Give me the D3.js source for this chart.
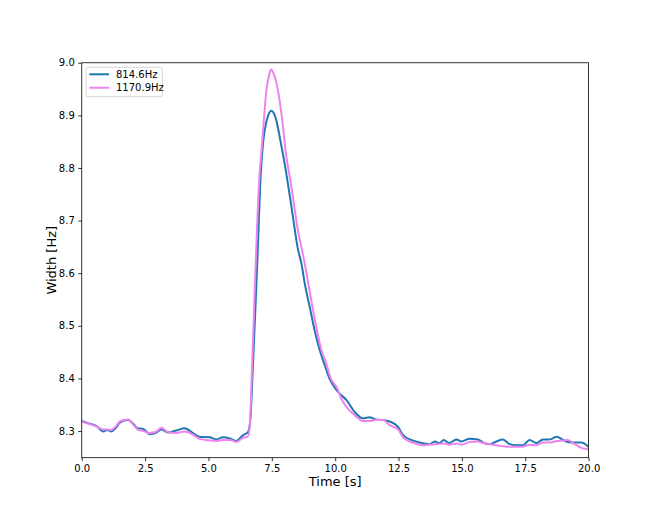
<!DOCTYPE html>
<html>
<head>
<meta charset="utf-8">
<script src="https://cdn.jsdelivr.net/npm/d3@7"></script>
<style>
  html, body { margin: 0; padding: 0; background: #fff; }
  svg { display: block; font-family: "DejaVu Sans", sans-serif; }
</style>
</head>
<body>
<svg id="chart" width="654" height="523"></svg>
<script>
// ---- data ----
const seriesNames = ["814.6Hz", "1170.9Hz"];
const seriesColors = ["#1f77b4", "#ee82ee"];

const blueT = [0.0,0.3,0.55,0.85,1.0,1.17,1.35,1.5,1.83,2.03,2.2,2.42,2.68,2.95,3.14,3.4,3.73,4.06,4.39,4.65,5.05,5.31,5.57,5.84,6.1,6.36,6.56,6.65,6.75,6.85,6.95,7.06,7.16,7.28,7.38,7.48,7.58,7.68,7.8,7.94,8.07,8.2,8.3,8.4,8.52,8.67,8.8,9.0,9.19,9.4,9.59,9.8,10.05,10.18,10.44,10.77,11.1,11.36,11.6,11.89,12.15,12.48,12.68,13.0,13.33,13.73,13.93,14.12,14.28,14.5,14.78,14.98,15.3,15.63,15.83,16.1,16.36,16.62,16.88,17.15,17.41,17.67,17.94,18.2,18.46,18.75,18.99,19.18,19.45,19.71,20.0];
const blueV = [8.319,8.314,8.310,8.299,8.302,8.299,8.306,8.316,8.321,8.314,8.305,8.304,8.294,8.297,8.303,8.297,8.301,8.305,8.296,8.289,8.288,8.284,8.288,8.286,8.281,8.292,8.298,8.320,8.420,8.530,8.650,8.786,8.850,8.887,8.903,8.909,8.904,8.890,8.862,8.826,8.790,8.750,8.718,8.685,8.648,8.618,8.580,8.535,8.491,8.452,8.425,8.397,8.378,8.371,8.359,8.336,8.324,8.326,8.322,8.321,8.318,8.308,8.292,8.283,8.278,8.275,8.280,8.277,8.283,8.277,8.284,8.280,8.285,8.284,8.278,8.275,8.280,8.284,8.275,8.273,8.273,8.283,8.277,8.284,8.284,8.289,8.283,8.279,8.278,8.278,8.270];

const pinkT = [0.0,0.3,0.55,0.85,1.0,1.17,1.35,1.5,1.83,2.03,2.2,2.42,2.68,2.95,3.14,3.4,3.73,4.06,4.39,4.65,5.05,5.31,5.57,5.84,6.1,6.36,6.56,6.63,6.72,6.82,6.92,7.02,7.09,7.18,7.28,7.4,7.48,7.55,7.62,7.75,7.92,8.05,8.27,8.5,8.8,9.05,9.28,9.45,9.65,9.8,10.11,10.18,10.44,10.77,11.1,11.36,11.6,11.89,12.15,12.48,12.68,13.0,13.33,13.5,13.93,14.3,14.5,14.8,15.0,15.3,15.63,15.83,16.1,16.36,16.62,16.88,17.15,17.41,17.67,17.94,18.2,18.46,18.75,18.99,19.18,19.45,19.71,20.0];
const pinkV = [8.318,8.313,8.309,8.303,8.303,8.302,8.309,8.318,8.322,8.312,8.303,8.300,8.296,8.299,8.306,8.298,8.296,8.299,8.293,8.285,8.282,8.281,8.283,8.283,8.279,8.287,8.290,8.310,8.420,8.560,8.690,8.790,8.830,8.887,8.945,8.978,8.987,8.982,8.973,8.945,8.887,8.830,8.765,8.690,8.618,8.550,8.491,8.455,8.428,8.403,8.378,8.368,8.346,8.330,8.319,8.319,8.321,8.321,8.311,8.303,8.288,8.279,8.274,8.273,8.275,8.276,8.274,8.276,8.274,8.279,8.280,8.277,8.275,8.273,8.271,8.270,8.270,8.270,8.274,8.273,8.278,8.278,8.281,8.282,8.283,8.275,8.268,8.265];

const xTicks = [0, 2.5, 5, 7.5, 10, 12.5, 15, 17.5, 20];
const yTicks = [8.3, 8.4, 8.5, 8.6, 8.7, 8.8, 8.9, 9.0];

// ---- layout ----
const padL = 81.75, padR = 588.6, padT = 62.76, padB = 457.7;
const svg = d3.select("#chart");

const x = d3.scaleLinear().domain([0, 20]).range([padL, padR]);
const y = d3.scaleLinear().domain([8.2492, 9.0]).range([padB, padT]);

const series = [
  { name: seriesNames[0], color: seriesColors[0], pts: blueT.map((t, i) => [t, blueV[i]]) },
  { name: seriesNames[1], color: seriesColors[1], pts: pinkT.map((t, i) => [t, pinkV[i]]) }
];

svg.append("defs").append("clipPath").attr("id", "clip")
  .append("rect").attr("x", padL).attr("y", padT).attr("width", padR - padL).attr("height", padB - padT);

const line = d3.line().x(d => x(d[0])).y(d => y(d[1])).curve(d3.curveMonotoneX);

const g = svg.append("g").attr("clip-path", "url(#clip)");
series.forEach(s => {
  g.append("path").datum(s.pts)
    .attr("fill", "none")
    .attr("stroke", s.color)
    .attr("stroke-width", 2)
    .attr("stroke-linejoin", "round")
    .attr("d", line);
});

// axes
const xAxis = d3.axisBottom(x).tickValues(xTicks).tickFormat(d3.format(".1f")).tickSizeOuter(0).tickSize(3.5).tickPadding(3.5);
const yAxis = d3.axisLeft(y).tickValues(yTicks).tickFormat(d3.format(".1f")).tickSizeOuter(0).tickSize(3.5).tickPadding(3.5);

const gx = svg.append("g").attr("transform", `translate(0,${padB})`).call(xAxis);
const gy = svg.append("g").attr("transform", `translate(${padL},0)`).call(yAxis);
[gx, gy].forEach(a => {
  a.select(".domain").remove();
  a.selectAll(".tick line").attr("stroke", "#000").attr("stroke-width", 0.8);
  a.selectAll(".tick text").attr("fill", "#000").attr("font-size", 10).attr("font-family", "DejaVu Sans, sans-serif");
});

// frame
svg.append("rect").attr("x", padL).attr("y", padT).attr("width", padR - padL).attr("height", padB - padT)
  .attr("fill", "none").attr("stroke", "#000").attr("stroke-width", 0.8);

// axis labels
svg.append("text").attr("x", (padL + padR) / 2).attr("y", 486)
  .attr("text-anchor", "middle").attr("font-size", 13).attr("fill", "#000").text("Time [s]");
svg.append("text").attr("transform", `translate(56,${(padT + padB) / 2}) rotate(-90)`)
  .attr("text-anchor", "middle").attr("font-size", 13).attr("fill", "#000").text("Width [Hz]");

// legend
const lg = svg.append("g");
lg.append("rect").attr("x", 86).attr("y", 67.3).attr("width", 76.3).attr("height", 29.4)
  .attr("rx", 2).attr("fill", "#fff").attr("fill-opacity", 0.8).attr("stroke", "#ccc").attr("stroke-width", 0.8);
series.forEach((s, i) => {
  const ly = 74.3 + i * 13.4;
  lg.append("line").attr("x1", 89.3).attr("x2", 109).attr("y1", ly).attr("y2", ly)
    .attr("stroke", s.color).attr("stroke-width", 2);
  lg.append("text").attr("x", 116).attr("y", ly).attr("dy", "0.35em")
    .attr("font-size", 10).attr("fill", "#000").text(s.name);
});
</script>
</body>
</html>
